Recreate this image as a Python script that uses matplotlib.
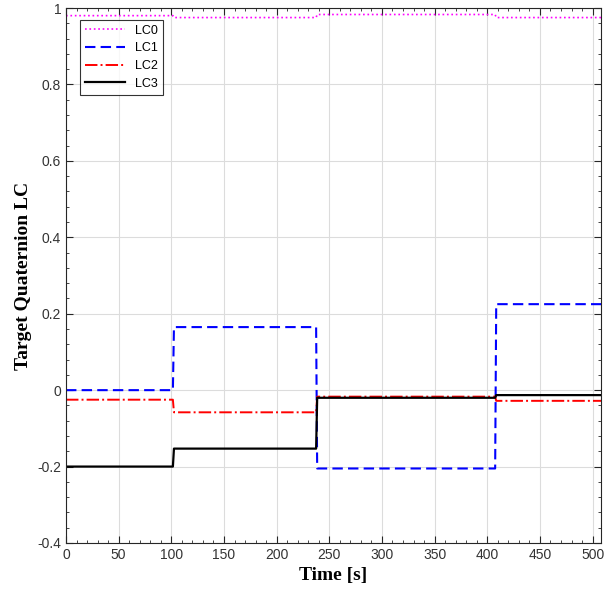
import numpy as np
import matplotlib
matplotlib.use("Agg")
import matplotlib.pyplot as plt
from matplotlib.ticker import MultipleLocator

# step times and levels
t = [0, 101.5, 102.5, 237.5, 238.5, 407.5, 408.5, 508]
lc0 = [0.980, 0.980, 0.975, 0.975, 0.983, 0.983, 0.975, 0.975]
lc1 = [0.000, 0.000, 0.165, 0.165, -0.205, -0.205, 0.225, 0.225]
lc2 = [-0.025, -0.025, -0.058, -0.058, -0.017, -0.017, -0.028, -0.028]
lc3 = [-0.200, -0.200, -0.153, -0.153, -0.020, -0.020, -0.013, -0.013]

plt.rcParams['font.family'] = ['Liberation Sans', 'DejaVu Sans']

fig = plt.figure(figsize=(6.16, 5.94), dpi=100)
ax = fig.add_axes([66/616, 1 - 543/594, (601 - 66)/616, (543 - 8)/594])

ax.plot(t, lc0, color='magenta', linestyle=':', linewidth=1.2, label='LC0')
ax.plot(t, lc1, color='blue', linestyle=(0, (5, 2.5)), linewidth=1.5, label='LC1')
ax.plot(t, lc2, color='red', linestyle='-.', linewidth=1.4, label='LC2')
ax.plot(t, lc3, color='black', linestyle='-', linewidth=1.6, label='LC3')

ax.set_xlim(0, 508)
ax.set_ylim(-0.4, 1.0)
ax.xaxis.set_major_locator(MultipleLocator(50))
ax.xaxis.set_minor_locator(MultipleLocator(10))
ax.yaxis.set_major_locator(MultipleLocator(0.2))
ax.yaxis.set_minor_locator(MultipleLocator(0.04))
ax.set_yticks([-0.4, -0.2, 0, 0.2, 0.4, 0.6, 0.8, 1.0])
ax.set_yticklabels(['-0.4', '-0.2', '0', '0.2', '0.4', '0.6', '0.8', '1'])

ax.grid(True, which='major', color='#dcdcdc', linewidth=0.8)
ax.tick_params(which='both', direction='in', top=True, right=True, labelsize=10,
               labelcolor='#333333', color='#262626')
ax.tick_params(which='major', length=5)
ax.tick_params(which='minor', length=2.5)
for s in ax.spines.values():
    s.set_color('#262626')
    s.set_linewidth(0.8)

ax.set_xlabel('Time [s]', family='Liberation Serif', fontweight='bold', fontsize=14, labelpad=4)
ax.set_ylabel('Target Quaternion LC', family='Liberation Serif', fontweight='bold', fontsize=14, labelpad=4)

leg = ax.legend(loc='upper left', bbox_to_anchor=(0.026, 0.978), borderaxespad=0, fontsize=9,
                frameon=True, fancybox=False, edgecolor='black', handlelength=3.2,
                labelspacing=0.45, borderpad=0.4)
leg.get_frame().set_linewidth(0.8)

fig.savefig('out.png', dpi=100)
